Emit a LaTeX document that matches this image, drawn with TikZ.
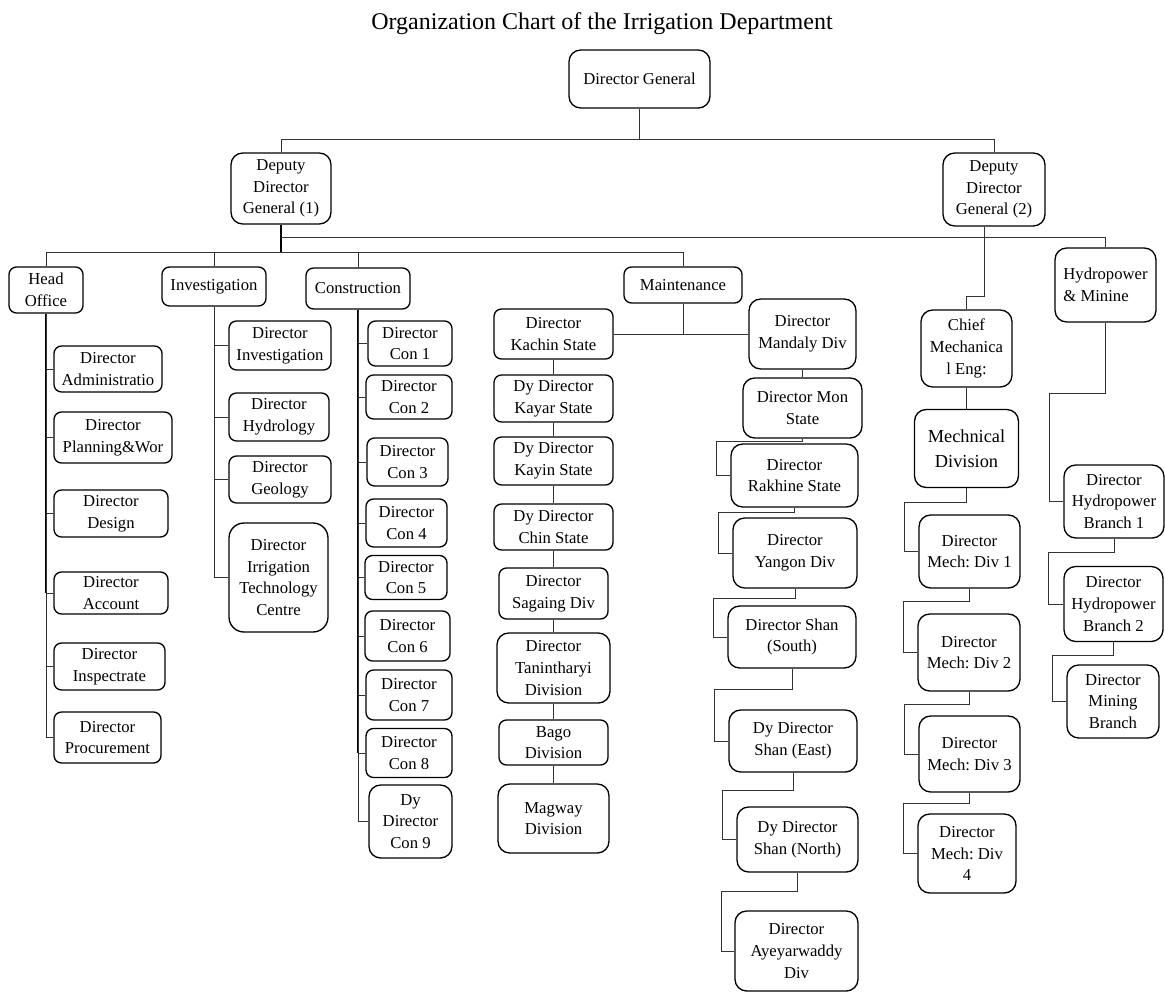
\documentclass[tikz,border=0pt]{standalone}
\usepackage{fontspec}
\setmainfont{Liberation Serif}
\usetikzlibrary{calc}
\frenchspacing

\tikzset{
  box/.style 2 args={draw=black, line width=0.8pt, rounded corners=4.5pt, align=center,
    inner sep=1pt, minimum width=#1*0.6pt, minimum height=#2*0.6pt,
    font=\fontsize{10}{13}\selectfont},
  tallbox/.style={rounded corners=7pt},
  link/.style={draw=black!80, line width=0.6pt},
  trunk/.style={draw=black, line width=1.1pt},
}

\begin{document}
\begin{tikzpicture}[x=0.6pt,y=-0.6pt]
        \useasboundingbox (0,0) rectangle (1165,994);
        \node[font=\fontsize{14.4}{17}\selectfont, anchor=base] (title) at (602,29) {Organization Chart of the Irrigation Department};
        \node[box={141}{58}, tallbox] (dg) at (639.5,79) {Director General};
        \node[box={100}{71}, tallbox] (ddgone) at (281,188.5) {Deputy\\Director\\General (1)};
        \node[box={102}{73}, tallbox] (ddgtwo) at (994,189.5) {Deputy\\Director\\General (2)};
        \node[box={74}{46}] (headoff) at (46,290) {Head\\Office};
        \node[box={104}{39}] (invest) at (214,286.5) {Investigation};
        \node[box={104}{41}] (constr) at (358,288.5) {Construction};
        \node[box={118}{36}] (maint) at (683,285) {Maintenance};
        \node[box={101}{74}, tallbox, align=left] (hydro) at (1105.5,285) {Hydropower\\\& Minine};
        \node[box={108}{46}] (admin) at (108,369) {Director\\Administratio};
        \node[box={118}{51}] (plan) at (113,437.5) {Director\\Planning\&Wor};
        \node[box={114}{47}] (design) at (111,513.5) {Director\\Design};
        \node[box={114}{42}] (acct) at (111,593) {Director\\Account};
        \node[box={111}{47}] (insp) at (109.5,666.5) {Director\\Inspectrate};
        \node[box={107}{51}] (procure) at (107.5,737.5) {Director\\Procurement};
        \node[box={102}{49}] (dinv) at (280,345.5) {Director\\Investigation};
        \node[box={100}{48}] (hydrol) at (279,417) {Director\\Hydrology};
        \node[box={102}{47}] (geol) at (280,479.5) {Director\\Geology};
        \node[box={99}{109}, rounded corners=9pt] (irrtech) at (278.5,577.5) {Director\\Irrigation\\Technology\\Centre};
        \node[box={84}{45}] (conone) at (410,343.5) {Director\\Con 1};
        \node[box={86}{44}] (contwo) at (409,397) {Director\\Con 2};
        \node[box={81}{48}] (conthree) at (407.5,462) {Director\\Con 3};
        \node[box={81}{48}] (confour) at (406.5,523) {Director\\Con 4};
        \node[box={82}{44}] (confive) at (406,577.5) {Director\\Con 5};
        \node[box={85}{50}] (consix) at (407.5,636) {Director\\Con 6};
        \node[box={86}{50}] (conseven) at (409,695) {Director\\Con 7};
        \node[box={86}{49}] (coneight) at (409,753) {Director\\Con 8};
        \node[box={83}{73}, tallbox] (connine) at (410.5,821.5) {Dy\\Director\\Con 9};
        \node[box={119}{50}] (kachin) at (553.5,334) {Director\\Kachin State};
        \node[box={119}{47}] (kayar) at (553.5,398.5) {Dy Director\\Kayar State};
        \node[box={119}{48}] (kayin) at (553.5,461) {Dy Director\\Kayin State};
        \node[box={119}{46}] (chin) at (553.5,527) {Dy Director\\Chin State};
        \node[box={109}{51}] (sagaing) at (553.5,593.5) {Director\\Sagaing Div};
        \node[box={113}{70}, tallbox] (tanin) at (553.5,668) {Director\\Tanintharyi\\Division};
        \node[box={109}{45}] (bago) at (553.5,742.5) {Bago\\Division};
        \node[box={111}{69}, tallbox] (magway) at (553.5,818.5) {Magway\\Division};
        \node[box={107}{70}, tallbox] (mandaly) at (802.5,334) {Director\\Mandaly Div};
        \node[box={119}{60}, tallbox] (mon) at (802.5,408) {Director Mon\\State};
        \node[box={127}{63}, tallbox] (rakhine) at (794.5,475.5) {Director\\Rakhine State};
        \node[box={124}{70}, tallbox] (yangon) at (795,553) {Director\\Yangon Div};
        \node[box={128}{62}, tallbox] (shans) at (792,637) {Director Shan\\(South)};
        \node[box={128}{62}, tallbox] (shane) at (793,741) {Dy Director\\Shan (East)};
        \node[box={121}{65}, tallbox] (shann) at (797.5,839.5) {Dy Director\\Shan (North)};
        \node[box={123}{80}, tallbox] (ayeya) at (796.5,951) {Director\\Ayeyarwaddy\\Div};
        \node[box={91}{77}, tallbox] (chief) at (966.5,348.5) {Chief\\Mechanica\\l Eng:};
        \node[box={104}{78}, tallbox, font=\fontsize{11}{15}\selectfont] (mechdiv) at (966.5,448.5) {Mechnical\\Division};
        \node[box={101}{73}, tallbox] (mone) at (969.5,551.5) {Director\\Mech: Div 1};
        \node[box={102}{77}, tallbox] (mtwo) at (969,652.5) {Director\\Mech: Div 2};
        \node[box={101}{76}, tallbox] (mthree) at (969.5,754) {Director\\Mech: Div 3};
        \node[box={98}{79}, tallbox] (mfour) at (967,853.5) {Director\\Mech: Div\\4};
        \node[box={100}{73}, tallbox] (hbone) at (1114,501.5) {Director\\Hydropower\\Branch 1};
        \node[box={99}{75}, tallbox] (hbtwo) at (1113.5,604) {Director\\Hydropower\\Branch 2};
        \node[box={92}{73}, tallbox] (mining) at (1113,701.5) {Director\\Mining\\Branch};
        \draw[link] (dg.south) -- ++(0,31) coordinate (topbus);
        \draw[link] (ddgone.north) |- (topbus) -| (ddgtwo.north);
        \draw[trunk] (ddgone.south) -- ++(0,28) coordinate (lowbus);
        \draw[link] (headoff.north) |- (lowbus) -| (maint.north);
        \draw[link] (invest.north) -- (invest.north |- lowbus);
        \draw[link] (constr.north) -- (constr.north |- lowbus);
        \draw[link] (ddgone.south) ++(0,13) coordinate (midbus) -| (hydro.north);
        \draw[link] ([xshift=-6pt]ddgtwo.south) -- ++(0,70) -| (chief.north);
        \draw[trunk] (headoff.south) -- (headoff.south |- acct.west);
        \draw[link] (headoff.south) |- (admin.west);
        \draw[link] (headoff.south) |- (plan.west);
        \draw[link] (headoff.south) |- (design.west);
        \draw[link] (headoff.south) |- (acct.west);
        \draw[link] (headoff.south) |- (insp.west);
        \draw[link] (headoff.south) |- (procure.west);
        \draw[link] (invest.south) |- (dinv.west);
        \draw[link] (invest.south) |- (hydrol.west);
        \draw[link] (invest.south) |- (geol.west);
        \draw[link] (invest.south) |- (irrtech.west);
        \draw[trunk] (constr.south) -- (constr.south |- coneight.west);
        \draw[link] (constr.south) |- (conone.west);
        \draw[link] (constr.south) |- (contwo.west);
        \draw[link] (constr.south) |- (conthree.west);
        \draw[link] (constr.south) |- (confour.west);
        \draw[link] (constr.south) |- (confive.west);
        \draw[link] (constr.south) |- (consix.west);
        \draw[link] (constr.south) |- (conseven.west);
        \draw[link] (constr.south) |- (coneight.west);
        \draw[link] (constr.south) |- (connine.west);
        \draw[link] (maint.south) -- (maint.south |- kachin.east);
        \draw[link] (kachin.east) -- (mandaly.west);
        \draw[link] (kachin.south) -- (kayar.north);
        \draw[link] (kayar.south) -- (kayin.north);
        \draw[link] (kayin.south) -- (chin.north);
        \draw[link] (chin.south) -- (sagaing.north);
        \draw[link] (sagaing.south) -- (tanin.north);
        \draw[link] (tanin.south) -- (bago.north);
        \draw[link] (bago.south) -- (magway.north);
        \draw[link] (mandaly.south) -- (mon.north);
        \draw[link] (mon.south) -- ++(0,3) -| ([xshift=-8.4pt]rakhine.west) -- (rakhine.west);
        \draw[link] (rakhine.south) -- ++(0,5) -| ([xshift=-8.4pt]yangon.west) -- (yangon.west);
        \draw[link] (yangon.south) -- ++(0,10) -| ([xshift=-8.4pt]shans.west) -- (shans.west);
        \draw[link] (shans.south) -- ++(0,21) -| ([xshift=-8.4pt]shane.west) -- (shane.west);
        \draw[link] (shane.south) -- ++(0,18) -| ([xshift=-8.4pt]shann.west) -- (shann.west);
        \draw[link] (shann.south) -- ++(0,19) -| ([xshift=-8pt]ayeya.west) -- (ayeya.west);
        \draw[link] (chief.south) -- (mechdiv.north);
        \draw[link] (mechdiv.south) -- ++(0,14) -| ([xshift=-8.4pt]mone.west) -- (mone.west);
        \draw[link] (mone.south) -- ++(0,13) -| ([xshift=-8.4pt]mtwo.west) -- (mtwo.west);
        \draw[link] (mtwo.south) -- ++(0,13) -| ([xshift=-8.4pt]mthree.west) -- (mthree.west);
        \draw[link] (mthree.south) -- ++(0,11) -| ([xshift=-8.4pt]mfour.west) -- (mfour.west);
        \draw[link] (hydro.south) -- ++(0,71) -| ([xshift=-8.4pt]hbone.west) -- (hbone.west);
        \draw[link] (hbone.south) -- ++(0,14) -| ([xshift=-9pt]hbtwo.west) -- (hbtwo.west);
        \draw[link] (hbtwo.south) -- ++(0,13) -| ([xshift=-8.4pt]mining.west) -- (mining.west);
\end{tikzpicture}
\end{document}
